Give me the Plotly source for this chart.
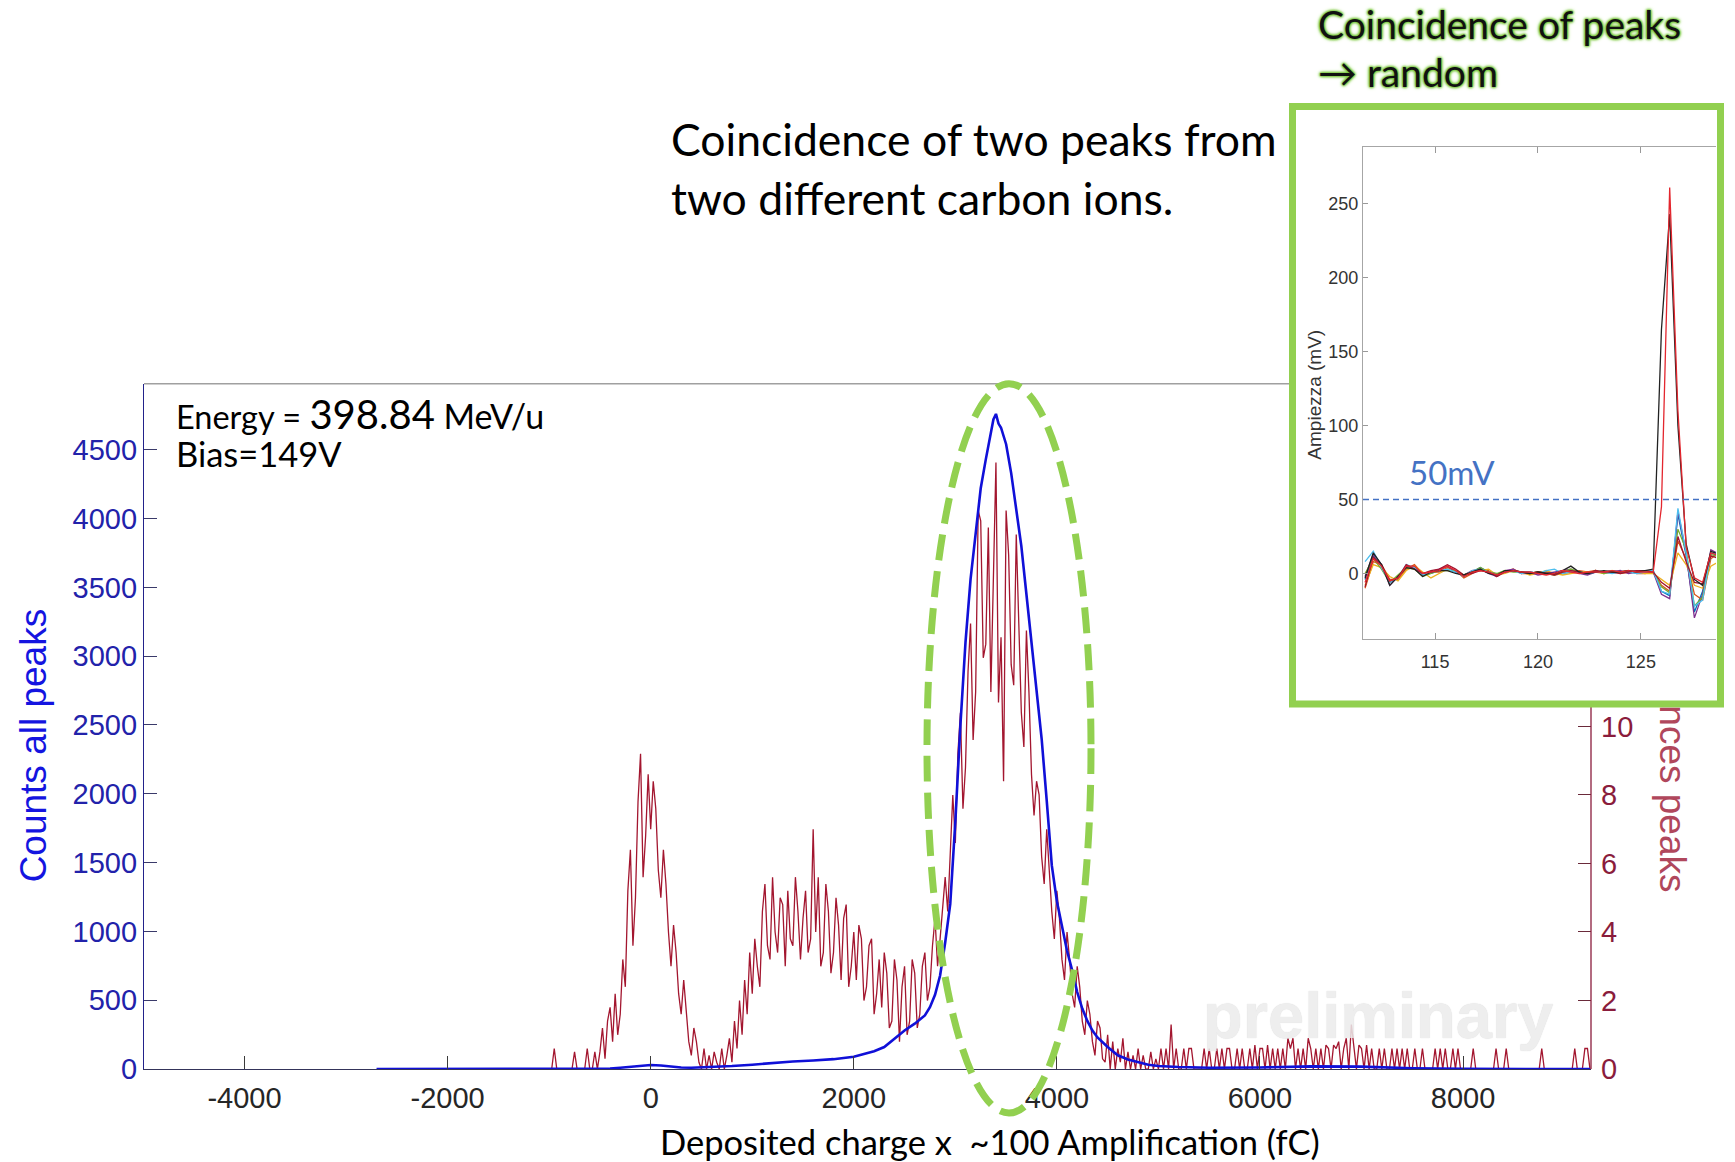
import plotly.graph_objects as go

W, H = 1735, 1162          # design frame (reference pixels)
FIG_H = 1177               # rendered height (photo is squeezed back to 1162)

# ---------------- main chart data ----------------
# Coincidence-peak histogram (right axis), bins of 25 fC starting at -1000
red_start, red_step = -1000, 25
red_counts = [
    0, 0, 0.6, 0, 0, 0, 0, 0, 0, 0, 0.5, 0, 0, 0, 0, 0.6, 0, 0, 0.5, 0,
    0.5, 1.2, 0.3, 1.4, 1.8, 0.8, 2.2, 1.0, 1.6, 3.2, 2.4, 5.2, 6.4, 3.6, 5.0, 7.8, 9.2, 5.6, 6.8, 8.6,
    7.0, 8.4, 7.6, 5.8, 5.0, 6.4, 5.4, 4.0, 3.0, 4.2, 3.4, 2.2, 1.6, 2.6, 1.6, 0.8, 0.4, 1.2, 0.8, 0.2,
    0, 0.6, 0, 0.4, 0, 0.5, 0.2, 0, 0.6, 0, 0.4, 0.9, 0.2, 1.4, 0.6, 2.0, 1.0, 2.6, 1.6, 3.4,
    2.2, 3.8, 3.0, 2.4, 4.6, 5.4, 3.6, 3.2, 5.6, 4.0, 3.4, 5.0, 4.8, 3.0, 5.2, 3.8, 3.6, 5.6, 4.6, 3.2,
    4.4, 5.2, 3.4, 3.8, 7.0, 4.0, 5.6, 3.0, 3.4, 5.4, 4.6, 2.8, 3.4, 5.0, 4.2, 2.6, 4.4, 4.8, 2.4, 3.0,
    4.0, 2.6, 4.2, 3.8, 2.0, 2.4, 3.6, 3.8, 1.6, 2.2, 3.2, 1.8, 3.4, 2.8, 1.2, 1.4, 3.2, 2.6, 0.8, 2.4,
    3.0, 1.0, 1.4, 3.2, 2.8, 1.2, 1.6, 3.0, 3.4, 2.0, 2.4, 3.6, 4.4, 3.0, 3.8, 4.8, 5.6, 4.6, 6.4, 8.0,
    6.6, 9.2, 10.4, 7.6, 8.8, 11.6, 13.0, 9.6, 11.0, 16.3, 16.0, 12.0, 12.4, 15.8, 11.0, 14.8, 17.7, 10.7, 12.6, 8.4,
    16.3, 15.0, 11.8, 11.2, 15.6, 13.0, 10.4, 9.4, 12.8, 11.0, 8.6, 7.4, 8.4, 8.0, 6.2, 5.4, 7.0, 5.8, 4.6, 3.8,
    5.2, 4.4, 3.2, 2.6, 4.0, 3.2, 2.2, 1.8, 3.0, 2.4, 1.4, 1.0, 2.0, 1.6, 0.8, 0.4, 1.4, 1.2, 0.3, 0.2,
    1.0, 0, 0.8, 0, 0.6, 0.2, 0.9, 0, 0.5, 0, 0.4, 0, 0.6, 0, 0.4, 0, 0, 0.5, 0, 0.3,
    0, 0.6, 0, 0.6, 0, 1.3, 0, 0.6, 0, 0, 0.6, 0, 0.6, 0.6, 0, 0, 0, 0, 0.6, 0,
    0.6, 0, 0, 0.6, 0, 0.6, 0, 0.6, 0.6, 0, 0, 0.6, 0, 0.6, 0, 0, 0.6, 0, 0.7, 0,
    0.6, 0.6, 0, 0.7, 0, 0.6, 0, 0.6, 0, 0.6, 0, 0.9, 0.6, 0.9, 0, 0.6, 0, 0.6, 0, 0.9,
    0.6, 0, 0.6, 0, 0.6, 0, 0.7, 0.6, 0, 0.7, 0.6, 0.8, 0, 0.6, 0.9, 0, 1.3, 0.6, 0, 0.7,
    0.6, 0, 0.7, 0, 0.6, 0, 0, 0.6, 0, 0.6, 0, 0, 0.6, 0, 0.6, 0, 0.6, 0, 0.6, 0,
    0, 0.6, 0, 0, 0.6, 0, 0, 0, 0, 0.6, 0, 0.6, 0, 0.6, 0, 0, 0.6, 0, 0.6, 0,
    0, 0, 0, 0, 0.6, 0, 0, 0, 0, 0, 0, 0, 0, 0.6, 0, 0, 0, 0.6, 0, 0,
    0, 0, 0, 0, 0, 0, 0, 0, 0, 0, 0, 0.6, 0, 0, 0, 0, 0, 0, 0, 0,
    0, 0, 0, 0, 0.6, 0, 0, 0, 0.6, 0.6, 0,
]
red_charge = [red_start + red_step * i for i in range(len(red_counts))]

# All-peaks spectrum (left axis)
blue_charge = [-2700, -2000, -1000, -600, -400, -300, -200, -100, 0, 100, 200, 300, 400, 500,
               600, 800, 1000, 1200, 1400, 1600, 1800, 2000, 2100, 2200, 2300, 2400, 2500, 2600,
               2700, 2750, 2800, 2850, 2900, 2950, 3000, 3050, 3100, 3150, 3200, 3250, 3300, 3350,
               3375, 3400, 3425, 3450, 3500, 3550, 3600, 3650, 3700, 3750, 3800, 3850, 3900, 3950,
               4000, 4050, 4100, 4150, 4200, 4250, 4300, 4350, 4400, 4500, 4600, 4700, 4800, 4900,
               5000, 5200, 5500, 6000, 6500, 7000, 7500, 8000, 9000, 9250]
blue_counts = [0, 0, 0, 1, 4, 10, 18, 26, 30, 26, 18, 12, 10, 12,
               15, 22, 32, 45, 55, 62, 72, 90, 108, 130, 160, 220, 280, 330,
               390, 450, 540, 680, 920, 1200, 1800, 2500, 3100, 3560, 3900, 4220, 4430, 4640,
               4720, 4760, 4690, 4660, 4540, 4330, 4060, 3800, 3450, 3100, 2720, 2400, 1950, 1480,
               1220, 1040, 860, 720, 560, 440, 350, 280, 230, 160, 100, 70, 50, 32,
               22, 15, 10, 12, 20, 18, 6, 2, 0, 0]

x_ticks = [-4000, -2000, 0, 2000, 4000, 6000, 8000]
x_ticktext = ["-4000", "-2000", "0", "2000", "4000", "6000", "8000"]
left_ticks = [0, 500, 1000, 1500, 2000, 2500, 3000, 3500, 4000, 4500]
right_ticks = [0, 2, 4, 6, 8, 10]

# ---------------- inset data (waveforms) ----------------
inset_t0, inset_dt = 111.6, 0.4
wave_blue =   [-4, 12, 5, -6, -3, 4, 5, -1, 0, 2, 3, 1, -2, 1, 4, 1, -1, 2, 2, 1, 1, 0, 1, 0, 1, 2, 1, 0, 1, 1, 2, 1, 1, 2, 1, 2, -12, -15, 40, 12, -26, -12, 14, 12]
wave_orange = [-10, 8, 6, -4, -4, 3, 6, 0, 1, 1, 4, 2, -3, 0, 3, 2, -2, 1, 3, 0, 0, 1, 1, -1, 0, 1, 2, 1, 2, 0, 1, 1, 2, 0, 0, 1, -8, -12, 22, 10, -14, -18, 10, 14]
wave_yellow = [-8, 6, 4, -2, -5, 2, 5, 1, -3, 0, 3, 2, -1, 1, 2, 3, -1, 0, 2, 1, -1, 0, 2, 0, -1, 0, 1, 1, 1, 0, 2, 0, 1, 1, 0, 0, -4, -8, 14, 6, -8, -10, 5, 8]
wave_purple = [-2, 13, 6, -8, -2, 5, 4, -1, 1, 3, 5, 1, -1, 2, 3, 0, -2, 2, 3, 0, 1, -1, 0, 1, 2, 3, 0, -1, 1, 1, 1, 2, 0, 1, 2, 1, -14, -17, 42, 14, -30, -14, 16, 13]
wave_green =  [0, 10, 3, -6, -1, 4, 3, -2, 0, 2, 2, 2, -1, 1, 4, 1, 0, 2, 1, 1, 0, 1, 0, -1, 1, 3, 1, 0, 2, 0, 1, 1, 2, 1, 1, 1, -9, -13, 30, 16, -22, -16, 13, 11]
wave_cyan =   [8, 15, 4, -6, -3, 6, 4, -1, 1, 2, 3, 1, -2, 2, 3, 1, -1, 1, 2, 0, 1, 0, 2, 3, 0, 1, 1, 0, 1, 1, 0, 1, 1, 0, 1, 2, -12, -14, 44, 14, -22, -18, 14, 14]
wave_brown =  [-9, 11, 6, -5, -3, 6, 3, 0, 2, 3, 6, 3, -1, 0, 2, 1, -2, 1, 2, 1, 0, 1, 0, -1, 1, 2, 1, 0, 2, 1, 1, 0, 1, 2, 2, 1, -6, -10, 25, 8, -6, -7, 12, 10]
wave_black =  [-3, 14, 6, -8, -2, 4, 3, -2, 1, 2, 2, 0, -1, 1, 3, 0, -1, 2, 2, 1, 0, 1, 0, 0, 2, 5, 1, 0, 1, 2, 1, 1, 2, 1, 2, 3, 165, 243, 100, 20, -4, -8, 15, 13]
wave_red =    [-6, 10, 5, -5, -3, 5, 5, 0, 1, 2, 5, 2, -2, 1, 2, 1, -1, 1, 2, 1, 1, 0, -1, 0, 2, 1, 0, 1, 1, 1, 2, 1, 2, 1, 1, 1, 45, 261, 110, 18, -3, -6, 14, 12]
inset_t = [round(inset_t0 + inset_dt * k, 2) for k in range(len(wave_blue))]
waves = [
    (wave_blue, "#0072BD"), (wave_orange, "#D95319"), (wave_yellow, "#EDB120"),
    (wave_purple, "#7E2F8E"), (wave_green, "#77AC30"), (wave_cyan, "#4DBEEE"),
    (wave_brown, "#A2142F"), (wave_black, "#222222"), (wave_red, "#E3262E"),
]
inset_xticks = [115, 120, 125]
inset_yticks = [0, 50, 100, 150, 200, 250]
threshold_mv = 50


def px(x):
    return x / W


def py(y):
    return 1 - y / H


fig = go.Figure()

fig.add_trace(go.Scatter(x=red_charge, y=red_counts, mode="lines",
                         line=dict(color="#A3162F", width=1.3),
                         xaxis="x", yaxis="y", showlegend=False))
fig.add_trace(go.Scatter(x=blue_charge, y=blue_counts, mode="lines",
                         line=dict(color="#1010D8", width=2.6),
                         xaxis="x", yaxis="y2", showlegend=False))

for vals, col in waves:
    fig.add_trace(go.Scatter(x=inset_t, y=vals, mode="lines",
                             line=dict(color=col, width=1.3),
                             xaxis="x3", yaxis="y3", showlegend=False))

tick_font = "Liberation Sans, Arial, sans-serif"
main_dom_x = [px(144), px(1591)]
main_dom_y = [py(1070), py(384)]

fig.update_layout(
    width=W, height=FIG_H,
    margin=dict(l=0, r=0, t=0, b=0),
    paper_bgcolor="white", plot_bgcolor="white",
    showlegend=False,
    xaxis=dict(domain=main_dom_x, range=[-4990, 9260], tickvals=x_ticks,
               ticktext=x_ticktext,
               ticks="inside", ticklen=13, tickcolor="#3a3a3a", tickwidth=1,
               showline=True, linecolor="#34345a", linewidth=1.3,
               showgrid=False, zeroline=False, anchor="y",
               tickfont=dict(family=tick_font, size=29, color="#262626"),
               ticklabelstandoff=3),
    yaxis=dict(domain=main_dom_y, range=[0, 20], side="right", anchor="x",
               tickvals=right_ticks, ticks="inside", ticklen=13,
               tickcolor="#6a2a3a", showline=False, showgrid=False,
               zeroline=False,
               tickfont=dict(family=tick_font, size=29, color="#8A1C3C"),
               ticklabelstandoff=9),
    yaxis2=dict(domain=main_dom_y, range=[0, 4980], side="left", overlaying="y",
                anchor="x", tickvals=left_ticks, ticks="inside", ticklen=13,
                tickcolor="#3a3a6a", showline=True, linecolor="#22228a",
                linewidth=1.3, showgrid=False, zeroline=False,
                tickfont=dict(family=tick_font, size=29, color="#2222AA"),
                ticklabelstandoff=0),
    xaxis3=dict(domain=[px(1363), px(1716)], range=[111.5, 128.65], anchor="y3",
                tickvals=inset_xticks, ticks="inside", ticklen=6,
                tickcolor="#999999", showline=True, linecolor="#a6a6a6",
                mirror="ticks", showgrid=False, zeroline=False,
                tickfont=dict(family=tick_font, size=18, color="#333333"),
                ticklabelstandoff=6),
    yaxis3=dict(domain=[py(640), py(147)], range=[-44.6, 288.5], anchor="x3",
                tickvals=inset_yticks, ticks="inside", ticklen=5,
                tickcolor="#999999", showline=True, linecolor="#a6a6a6",
                showgrid=False, zeroline=False,
                tickfont=dict(family=tick_font, size=18, color="#333333"),
                ticklabelstandoff=0),
)

shapes = [
    dict(type="line", xref="paper", yref="paper", x0=px(144), x1=px(1290),
         y0=py(384), y1=py(384), line=dict(color="#a0a0a0", width=1.5)),
    dict(type="line", xref="paper", yref="paper", x0=px(1591), x1=px(1591),
         y0=py(1070), y1=py(706), line=dict(color="#8A1C3C", width=1.3)),
    dict(type="line", xref="x3 domain", yref="y3", x0=0, x1=1.01,
         y0=threshold_mv, y1=threshold_mv,
         line=dict(color="#4472C4", width=1.4, dash="6px,4px")),
    dict(type="circle", xref="paper", yref="paper",
         x0=px(927), x1=px(1091), y0=py(1114), y1=py(384),
         line=dict(color="#92D050", width=7, dash="26px,11px"), layer="above"),
    dict(type="rect", xref="paper", yref="paper",
         x0=px(1292.5), x1=px(1720.5), y0=py(704.5), y1=py(106.5),
         line=dict(color="#92D050", width=7), layer="above"),
]
fig.update_layout(shapes=shapes)

glow = ("0 0 2px #7cc943, 0 0 2px #7cc943, 0 0 3px #7cc943, "
        "0 0 3px #7cc943, 0 0 4px #92D050")
ann = [
    dict(text="Counts all peaks", x=px(33), y=py(746), textangle=-90,
         font=dict(family=tick_font, size=37, color="#1414E0")),
    dict(text="nces peaks", x=px(1673), y=py(799), textangle=90,
         font=dict(family=tick_font, size=37, color="#B0475C")),
    dict(text="Deposited charge x  ~100 Amplification (fC)", x=px(990), y=py(1142),
         font=dict(family="Lato", size=34.5, color="#000000")),
    dict(text=("<span style='font-size:32.5px'>Energy = </span>"
               "<span style='font-size:40px'>398.84</span>"
               "<span style='font-size:34px'> MeV/u</span><br>"
               "<span style='font-size:34.5px'>Bias=149V</span>"),
         x=px(174), y=py(432), xanchor="left", align="left",
         font=dict(family="Lato", size=29, color="#000000")),
    dict(text="Coincidence of two peaks from", x=px(669), y=py(139), xanchor="left",
         font=dict(family="Lato", size=44.5, color="#000000")),
    dict(text="two different carbon ions.", x=px(669), y=py(198), xanchor="left",
         font=dict(family="Lato", size=44.5, color="#000000")),
    dict(text="Coincidence of peaks", x=px(1316), y=py(24), xanchor="left",
         font=dict(family="Lato", size=39, color="#111111", shadow=glow)),
    dict(text="\u2192 random", x=px(1316), y=py(72), xanchor="left",
         font=dict(family="Lato", size=39, color="#111111", shadow=glow)),
    dict(text="50mV", x=px(1452), y=py(472),
         font=dict(family="Lato", size=33, color="#4472C4")),
    dict(text="Ampiezza (mV)", x=px(1315), y=py(395), textangle=-90,
         font=dict(family=tick_font, size=19, color="#333333")),
    dict(text="<b>preliminary</b>", x=px(1378), y=py(1016), opacity=0.85,
         font=dict(family=tick_font, size=65, color="#ececec", shadow="0 0 1px #cfcfcf")),
]
for a in ann:
    a.update(xref="paper", yref="paper", showarrow=False)
    a.setdefault("xanchor", "center")
    a.setdefault("yanchor", "middle")
fig.update_layout(annotations=ann)

fig.write_html(
    "out.html",
    post_script=("document.documentElement.style.margin='0';"
                 "document.body.style.margin='0';"
                 "document.documentElement.style.overflow='hidden';"
                 "document.body.style.overflow='hidden';"),
)
